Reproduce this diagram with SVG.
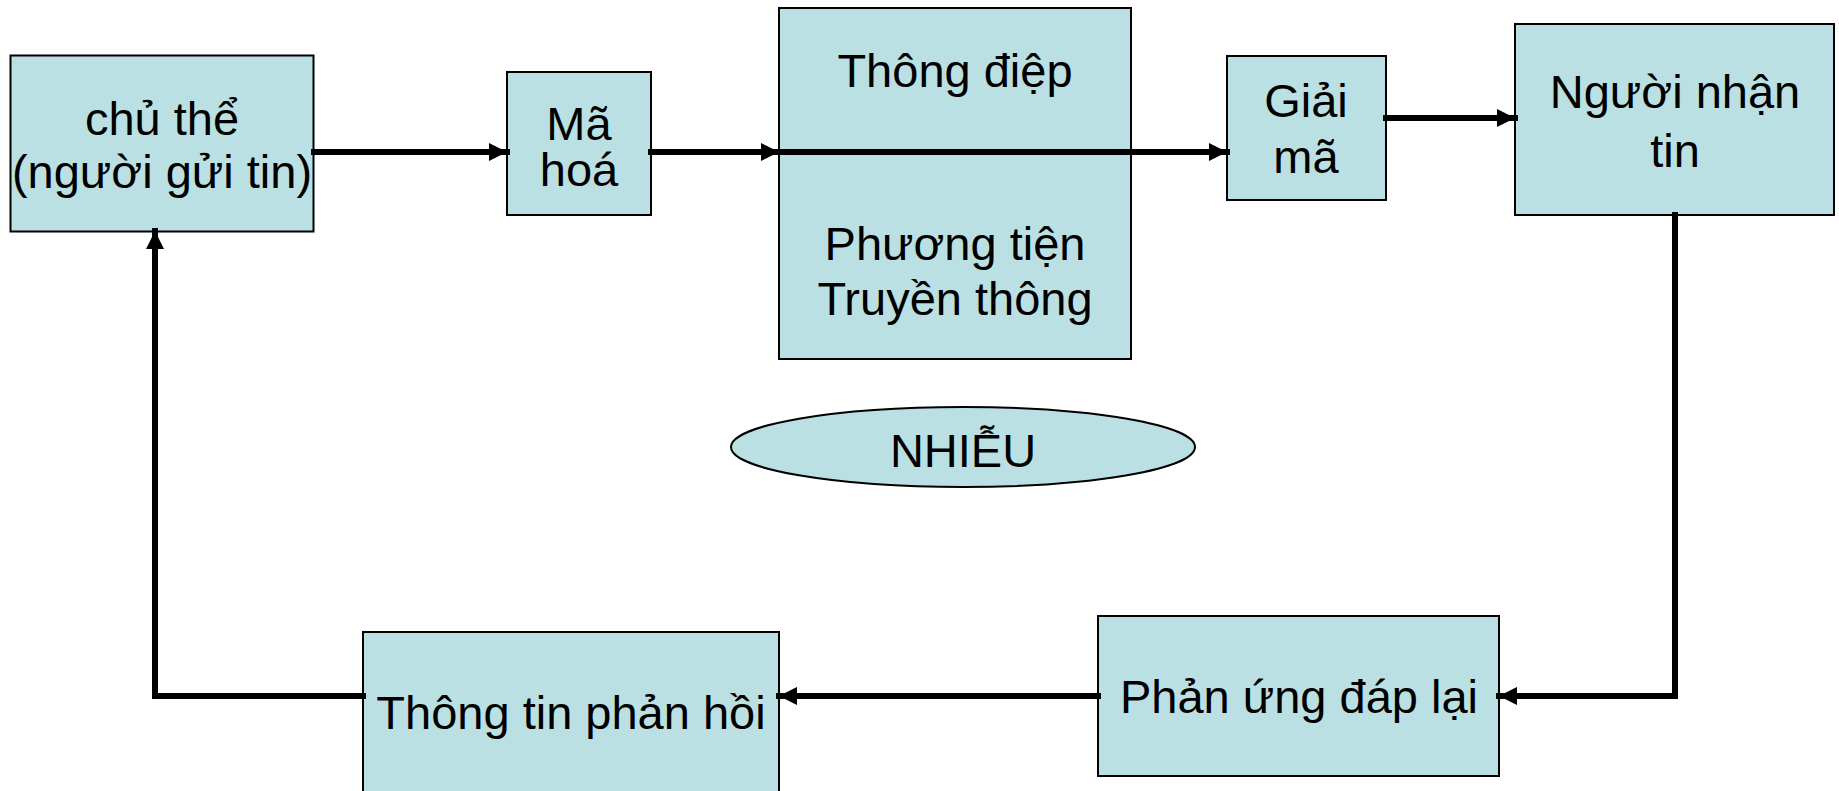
<svg xmlns="http://www.w3.org/2000/svg" width="1839" height="791" viewBox="0 0 1839 791">
  <style>
    .box { fill: #bae0e3; stroke: #000; stroke-width: 2; }
    .lbl { font-family: "Liberation Sans", Arial, sans-serif; font-size: 47px; fill: #000; text-anchor: middle; }
    .wire { fill: none; stroke: #000; stroke-width: 6; stroke-linecap: square; }
  </style>
  <defs>
    <marker id="arrow" markerUnits="userSpaceOnUse" markerWidth="18" markerHeight="18" refX="18" refY="9" orient="auto">
      <path d="M0,0 L18,9 L0,18 z" fill="#000"/>
    </marker>
  </defs>

  <rect width="1839" height="791" fill="#fff"/>

  <g id="sender">
    <rect class="box" x="10.5" y="55.5" width="303" height="176"/>
    <text class="lbl" x="162" y="135">chủ thể</text>
    <text class="lbl" x="162" y="188">(người gửi tin)</text>
  </g>

  <g id="encode">
    <rect class="box" x="507" y="72" width="144" height="143"/>
    <text class="lbl" x="579" y="140">Mã</text>
    <text class="lbl" x="579" y="186">hoá</text>
  </g>

  <g id="message-channel">
    <rect class="box" x="779" y="8" width="352" height="351"/>
    <text class="lbl" x="955" y="87">Thông điệp</text>
    <text class="lbl" x="955" y="260">Phương tiện</text>
    <text class="lbl" x="955" y="315">Truyền thông</text>
  </g>

  <g id="decode">
    <rect class="box" x="1227" y="56" width="159" height="144"/>
    <text class="lbl" x="1306" y="117">Giải</text>
    <text class="lbl" x="1306" y="173">mã</text>
  </g>

  <g id="receiver">
    <rect class="box" x="1515" y="24" width="319" height="191"/>
    <text class="lbl" x="1675" y="108">Người nhận</text>
    <text class="lbl" x="1675" y="167">tin</text>
  </g>

  <g id="noise">
    <ellipse class="box" cx="963" cy="447" rx="232" ry="40"/>
    <text class="lbl" x="963" y="467">NHIỄU</text>
  </g>

  <g id="response">
    <rect class="box" x="1098" y="616" width="401" height="160"/>
    <text class="lbl" x="1299" y="713">Phản ứng đáp lại</text>
  </g>

  <g id="feedback">
    <rect class="box" x="363" y="632" width="416" height="170"/>
    <text class="lbl" x="571" y="729">Thông tin phản hồi</text>
  </g>

  <g id="connectors">
    <line class="wire" x1="314" y1="152" x2="507" y2="152" marker-end="url(#arrow)"/>
    <line class="wire" x1="651" y1="152" x2="779" y2="152" marker-end="url(#arrow)"/>
    <line class="wire" x1="779" y1="152" x2="1227" y2="152" marker-end="url(#arrow)"/>
    <line class="wire" x1="1386" y1="118" x2="1515" y2="118" marker-end="url(#arrow)"/>
    <polyline class="wire" points="1675,215 1675,696 1499,696" marker-end="url(#arrow)"/>
    <line class="wire" x1="1098" y1="696" x2="779" y2="696" marker-end="url(#arrow)"/>
    <polyline class="wire" points="363,696 155,696 155,231" marker-end="url(#arrow)"/>
  </g>
</svg>
